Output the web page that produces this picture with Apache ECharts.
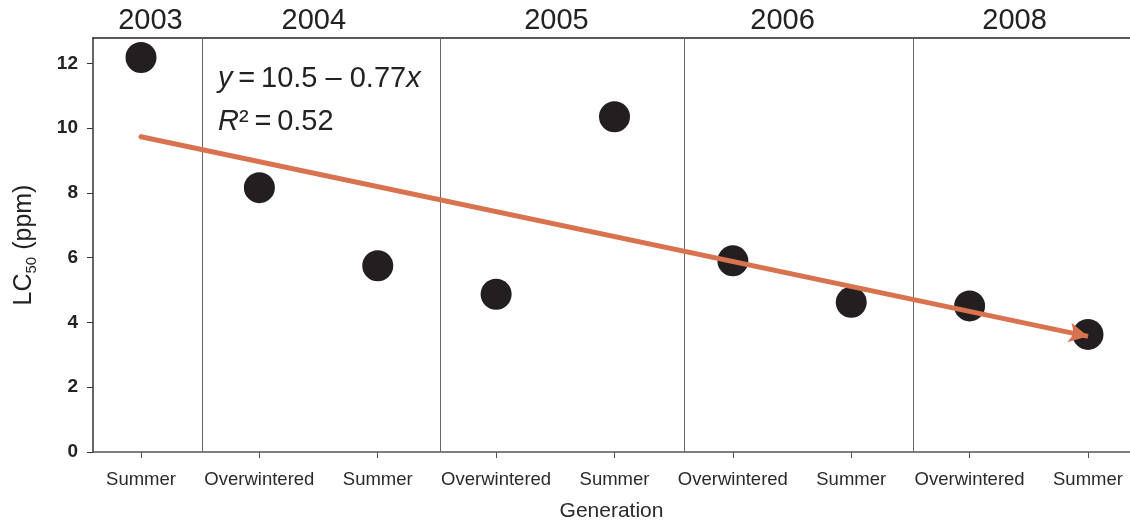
<!DOCTYPE html>
<html style="height: 100%">
<head>
  <meta charset="utf-8">
</head>
<body style="height: 100%; margin: 0; background: #fff">
  <div id="container" style="width: 1130px; height: 520px"></div>

  <script type="text/javascript" src="https://cdn.jsdelivr.net/npm/echarts@6/dist/echarts.min.js"></script>
  <script type="text/javascript">
    // generations along the x axis (position 1..9)
    var generations = ['Summer', 'Overwintered', 'Summer', 'Overwintered', 'Summer',
                       'Overwintered', 'Summer', 'Overwintered', 'Summer'];
    var genPos = [1, 2, 3, 4, 5, 6, 7, 8, 9];
    // LC50 values (ppm)
    var lc50 = [12.18, 8.16, 5.75, 4.87, 10.35, 5.90, 4.62, 4.51, 3.63];

    // years on top and where the year blocks are split
    var years = ['2003', '2004', '2005', '2006', '2008'];
    var yearPos = [1.08, 2.46, 4.51, 6.42, 8.38];
    var yearBreaks = [1.52, 3.53, 5.59, 7.52];

    // regression y = 10.5 - 0.77x, end points at x = 1 and x = 9
    var trendX = [1, 9];
    var trendY = [9.73, 3.57];

    var yTicks = [0, 2, 4, 6, 8, 10, 12];

    var font = '"Liberation Sans", Arial, Helvetica, sans-serif';
    var dom = document.getElementById('container');
    var myChart = echarts.init(dom, null, { renderer: 'canvas' });

    var xMin = 0.5945, xMax = 9.355;

    var option = {
      animation: false,
      backgroundColor: '#fff',
      textStyle: { fontFamily: font },
      grid: { left: 93, right: 0, top: 38, bottom: 68, outerBoundsMode: 'none', containLabel: false },
      xAxis: [
        {
          type: 'value',
          min: xMin,
          max: xMax,
          position: 'bottom',
          axisLine: { show: true, lineStyle: { color: '#555', width: 1.5 } },
          axisTick: { show: true, customValues: genPos, length: 6, lineStyle: { color: '#555' } },
          axisLabel: {
            customValues: genPos,
            margin: 18,
            fontSize: 18.5,
            color: '#2a2a2a',
            formatter: function (v) { return generations[Math.round(v) - 1]; }
          },
          splitLine: { show: false },
          name: 'Generation',
          nameLocation: 'middle',
          nameGap: 49,
          nameTextStyle: { fontSize: 21, color: '#2a2a2a' }
        },
        {
          type: 'value',
          min: xMin,
          max: xMax,
          position: 'top',
          axisLine: { show: true, lineStyle: { color: '#222', width: 1.5 } },
          axisTick: { show: false },
          axisLabel: {
            customValues: yearPos,
            margin: 3,
            fontSize: 29,
            color: '#222',
            formatter: function (v) {
              return years[yearPos.indexOf(v)];
            }
          },
          splitLine: { show: false }
        }
      ],
      yAxis: {
        type: 'value',
        min: 0,
        max: 12.78,
        interval: 2,
        axisLine: { show: true, lineStyle: { color: '#333', width: 1.5 } },
        axisTick: { show: true, customValues: yTicks, length: 6, lineStyle: { color: '#333' } },
        axisLabel: {
          customValues: yTicks,
          margin: 15,
          fontSize: 19,
          fontWeight: 'bold',
          color: '#222'
        },
        splitLine: { show: false },
        name: 'LC{sub|50} (ppm)',
        nameLocation: 'middle',
        nameRotate: 90,
        nameGap: 54,
        nameTextStyle: {
          fontSize: 25,
          color: '#222',
          rich: {
            sub: { fontSize: 15, color: '#222', verticalAlign: 'bottom', padding: [14, 0, 0, 0] }
          }
        }
      },
      graphic: [
        {
          type: 'text',
          left: 218,
          top: 57,
          style: {
            text: '{i|y}{n|\u2009=\u200910.5 \u2013 0.77}{i|x}\n{i|R}{n|\u00b2\u2009=\u20090.52}',
            font: '29px ' + font,
            fill: '#222',
            lineHeight: 43,
            rich: {
              i: { fontStyle: 'italic', fontSize: 29, fill: '#222', lineHeight: 43 },
              n: { fontSize: 29, fill: '#222', lineHeight: 43 }
            }
          }
        }
      ],
      series: [
        {
          name: 'LC50',
          type: 'scatter',
          data: genPos.map(function (x, i) { return [x, lc50[i]]; }),
          symbolSize: 31,
          itemStyle: { color: '#231f20', opacity: 1 },
          z: 2,
          markLine: {
            silent: true,
            symbol: 'none',
            label: { show: false },
            lineStyle: { color: '#666', width: 1, type: 'solid' },
            data: yearBreaks.map(function (b) { return { xAxis: b }; })
          }
        },
        {
          name: 'trend',
          type: 'line',
          data: [],
          z: 5,
          markLine: {
            silent: true,
            label: { show: false },
            lineStyle: { color: '#d9734f', width: 5, type: 'solid', opacity: 1 },
            data: [[
              { coord: [trendX[0], trendY[0]], symbol: 'circle', symbolSize: 5 },
              { coord: [trendX[1], trendY[1]], symbol: 'arrow', symbolSize: [15, 19] }
            ]]
          }
        }
      ]
    };

    myChart.setOption(option);
    window.addEventListener('resize', myChart.resize);
  </script>
</body>
</html>
